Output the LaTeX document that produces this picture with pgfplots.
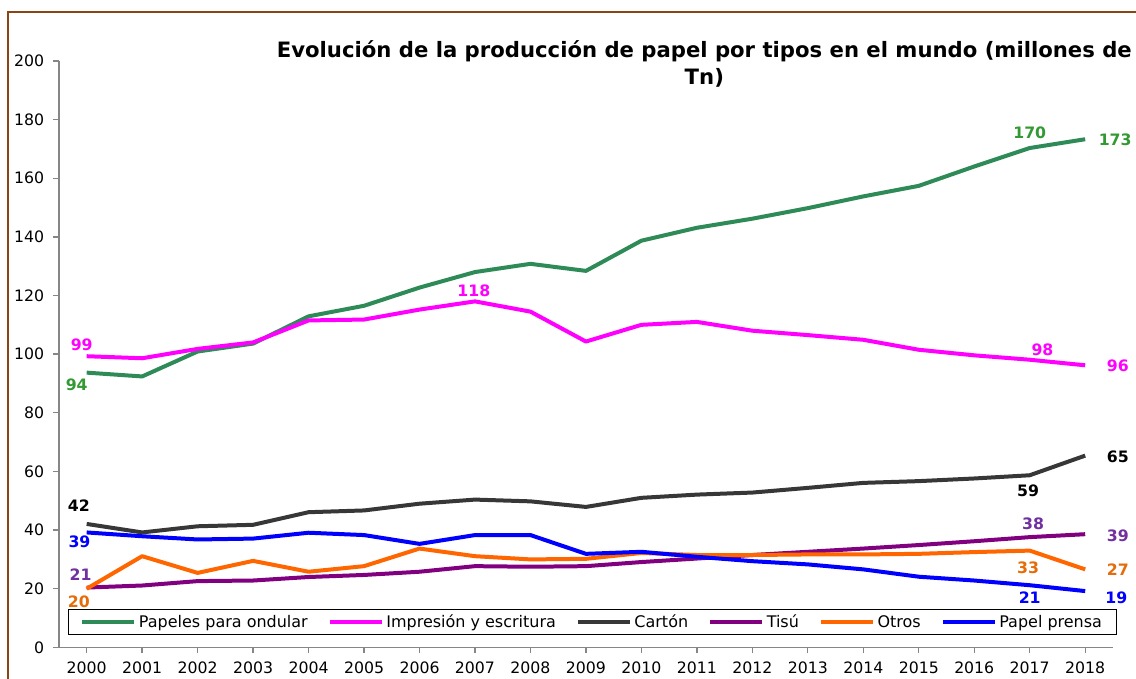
\documentclass[border=0pt]{standalone}
\usepackage{pgfplots}
\pgfplotsset{compat=1.18}
\usepackage{fontspec}
\setmainfont{DejaVu Sans}
\definecolor{cGreen}{RGB}{46,139,87}
\definecolor{cGreenL}{RGB}{51,153,51}
\definecolor{cMag}{RGB}{255,0,255}
\definecolor{cBlack}{RGB}{55,55,55}
\definecolor{cPurple}{RGB}{128,0,128}
\definecolor{cPurpleL}{RGB}{112,48,160}
\definecolor{cOrange}{RGB}{255,102,0}
\definecolor{cOrangeL}{RGB}{228,108,10}
\definecolor{cBlue}{RGB}{0,0,255}
\definecolor{cBrown}{RGB}{139,69,19}
\definecolor{cAxis}{RGB}{134,134,134}
\begin{document}
\begin{tikzpicture}
\begin{scope}[x=0.75pt,y=0.75pt]
\useasboundingbox (0,0) rectangle (1136,677);
\draw[cBrown, line width=1.5pt] (8,-10) -- (8,665) -- (1150,665);
\node[font=\bfseries\fontsize{15.9}{20.3}\selectfont, align=center, inner sep=0pt] at (705,613) {Evolución de la producción de papel por tipos en el mundo (millones de\\Tn)};
\end{scope}
\begin{axis}[
  at={(44.25pt,21.75pt)}, anchor=south west,
  scale only axis, width=791.25pt, height=440.25pt,
  xmin=1999.5, xmax=2018.5, ymin=0, ymax=200,
  clip=false,
  axis x line*=bottom, axis y line*=left,
  axis line style={cAxis, line width=1.1pt, -},
  tick align=outside, major tick length=4.5pt,
  tick style={cAxis, line width=1pt},
  xtick={2000,2001,...,2018}, ytick={0,20,...,200},
  /pgf/number format/assume math mode=true,
  xticklabel style={/pgf/number format/1000 sep={}, font=\fontsize{11.8}{13}\selectfont, yshift=-3pt},
  yticklabel style={font=\fontsize{11.8}{13}\selectfont, xshift=-3pt},
  legend columns=6,
  legend style={at={(0.0085,0.0204)}, anchor=south west, draw=black, line width=0.75pt,
    font=\fontsize{12}{13}\selectfont, inner xsep=9pt,
    /tikz/every even column/.append style={column sep=13pt}},
  legend image code/.code={\draw[#1] (0pt,0pt) -- (39pt,0pt);},
  every axis plot/.append style={line width=3pt, line join=round, mark=none},
]
\addplot[cGreen] coordinates {(2000,93.7)(2001,92.4)(2002,100.9)(2003,103.6)(2004,112.9)(2005,116.5)(2006,122.7)(2007,128.0)(2008,130.8)(2009,128.4)(2010,138.7)(2011,143.1)(2012,146.2)(2013,149.8)(2014,153.8)(2015,157.4)(2016,164.0)(2017,170.3)(2018,173.3)};
\addlegendentry{Papeles para ondular}
\addplot[cMag] coordinates {(2000,99.3)(2001,98.6)(2002,101.8)(2003,104.0)(2004,111.5)(2005,111.8)(2006,115.2)(2007,118.0)(2008,114.5)(2009,104.3)(2010,110.0)(2011,111.0)(2012,108.0)(2013,106.5)(2014,104.9)(2015,101.5)(2016,99.6)(2017,98.1)(2018,96.2)};
\addlegendentry{Impresión y escritura}
\addplot[cBlack] coordinates {(2000,42.1)(2001,39.2)(2002,41.3)(2003,41.8)(2004,46.1)(2005,46.7)(2006,49.0)(2007,50.4)(2008,49.8)(2009,47.9)(2010,51.0)(2011,52.1)(2012,52.8)(2013,54.4)(2014,56.1)(2015,56.7)(2016,57.6)(2017,58.7)(2018,65.4)};
\addlegendentry{Cartón}
\addplot[cPurple] coordinates {(2000,20.4)(2001,21.1)(2002,22.6)(2003,22.8)(2004,24.0)(2005,24.7)(2006,25.8)(2007,27.7)(2008,27.5)(2009,27.7)(2010,29.1)(2011,30.3)(2012,31.5)(2013,32.6)(2014,33.7)(2015,34.9)(2016,36.2)(2017,37.6)(2018,38.6)};
\addlegendentry{Tisú}
\addplot[cOrange] coordinates {(2000,20.0)(2001,31.1)(2002,25.4)(2003,29.5)(2004,25.8)(2005,27.7)(2006,33.7)(2007,31.1)(2008,30.0)(2009,30.2)(2010,32.2)(2011,31.5)(2012,31.5)(2013,31.7)(2014,31.7)(2015,31.9)(2016,32.5)(2017,33.0)(2018,26.6)};
\addlegendentry{Otros}
\addplot[cBlue] coordinates {(2000,39.2)(2001,37.9)(2002,36.8)(2003,37.1)(2004,39.1)(2005,38.3)(2006,35.3)(2007,38.3)(2008,38.3)(2009,31.9)(2010,32.6)(2011,30.9)(2012,29.4)(2013,28.3)(2014,26.6)(2015,24.1)(2016,22.8)(2017,21.2)(2018,19.2)};
\addlegendentry{Papel prensa}
\begin{scope}[font=\bfseries\fontsize{11.8}{13}\selectfont]
\node[text=cGreenL] at (axis cs:1999.82,89.6) {94};
\node[text=cGreenL] at (axis cs:2017.0,175.5) {170};
\node[text=cGreenL] at (axis cs:2018.54,173.1) {173};
\node[text=cMag] at (axis cs:1999.91,103.2) {99};
\node[text=cMag] at (axis cs:2006.98,121.6) {118};
\node[text=cMag] at (axis cs:2017.23,101.5) {98};
\node[text=cMag] at (axis cs:2018.59,96.1) {96};
\node[text=black] at (axis cs:1999.86,48.4) {42};
\node[text=black] at (axis cs:2016.97,53.5) {59};
\node[text=black] at (axis cs:2018.59,65.1) {65};
\node[text=cBlue] at (axis cs:1999.87,36.1) {39};
\node[text=cBlue] at (axis cs:2017.0,17.0) {21};
\node[text=cBlue] at (axis cs:2018.56,17.0) {19};
\node[text=cPurpleL] at (axis cs:1999.89,24.9) {21};
\node[text=cPurpleL] at (axis cs:2017.06,42.2) {38};
\node[text=cPurpleL] at (axis cs:2018.59,38.2) {39};
\node[text=cOrangeL] at (axis cs:1999.86,15.7) {20};
\node[text=cOrangeL] at (axis cs:2016.97,27.3) {33};
\node[text=cOrangeL] at (axis cs:2018.59,26.6) {27};
\end{scope}
\end{axis}
\end{tikzpicture}
\end{document}
